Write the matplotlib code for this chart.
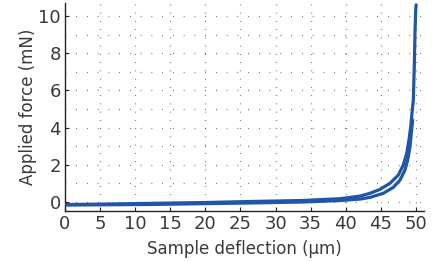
"""Force vs. sample deflection curve."""

import matplotlib
matplotlib.use("Agg")
import matplotlib.pyplot as plt
import numpy as np

# loading branch (upper)
load_x = [0.28, 4.99, 12.11, 19.23, 26.35, 33.48, 39.17, 42.02, 43.45, 44.87,
          46.30, 47.48, 48.19, 48.68, 49.00, 49.25, 49.43, 49.62, 49.76,
          49.86, 49.96, 50.02]
load_y = [-0.13, -0.11, -0.07, -0.03, 0.03, 0.08, 0.18, 0.32, 0.47, 0.68,
          1.01, 1.45, 1.99, 2.62, 3.33, 4.05, 4.77, 5.48, 7.27,
          9.09, 10.30, 10.60]

# unloading branch (lower)
unload_x = [49.53, 49.33, 49.15, 48.82, 48.43, 47.72, 46.77, 45.34, 43.45,
            42.02, 39.17, 33.48, 26.35, 12.11, 0.28]
unload_y = [4.41, 3.69, 2.97, 2.26, 1.72, 1.18, 0.79, 0.47, 0.25,
            0.16, 0.08, 0.0, -0.05, -0.13, -0.16]

x_ticks = [0, 5, 10, 15, 20, 25, 30, 35, 40, 45, 50]
y_ticks = [0, 2, 4, 6, 8, 10]

LINE_COLOR = "#2155a5"
TEXT_COLOR = "#3a3a3a"

fig = plt.figure(figsize=(4.37, 2.61), dpi=100)
ax = fig.add_axes([0.1487, 0.1916, 0.8215, 0.797])

# dotted background grid
for yv in np.arange(0, 11, 1):
    ax.axhline(yv, color="#555555", linewidth=0.9,
               linestyle=(0, (0.6, 8.0)), zorder=0)
for xv in x_ticks[1:]:
    ax.axvline(xv, color="#555555", linewidth=0.9,
               linestyle=(0, (0.6, 6.0)), zorder=0)

ax.plot(load_x, load_y, color=LINE_COLOR, linewidth=2.3, zorder=3,
        solid_joinstyle="round", solid_capstyle="round")
ax.plot(unload_x, unload_y, color=LINE_COLOR, linewidth=2.3, zorder=3,
        solid_joinstyle="round", solid_capstyle="round")

ax.set_xlim(0, 51.14)
ax.set_ylim(-0.48, 10.7)
ax.set_xticks(x_ticks)
ax.set_yticks(y_ticks)

for side in ("top", "right"):
    ax.spines[side].set_visible(False)
for side in ("left", "bottom"):
    ax.spines[side].set_color("#222222")
    ax.spines[side].set_linewidth(1.0)

ax.tick_params(direction="in", length=3, width=0.8, colors="#222222",
               labelcolor=TEXT_COLOR, labelsize=13, pad=3)

ax.set_xlabel("Sample deflection (μm)", fontsize=12, color=TEXT_COLOR, labelpad=5)
ax.set_ylabel("Applied force (mN)", fontsize=12, color=TEXT_COLOR, labelpad=1)

fig.savefig("out.png", dpi=100)
plt.close(fig)
